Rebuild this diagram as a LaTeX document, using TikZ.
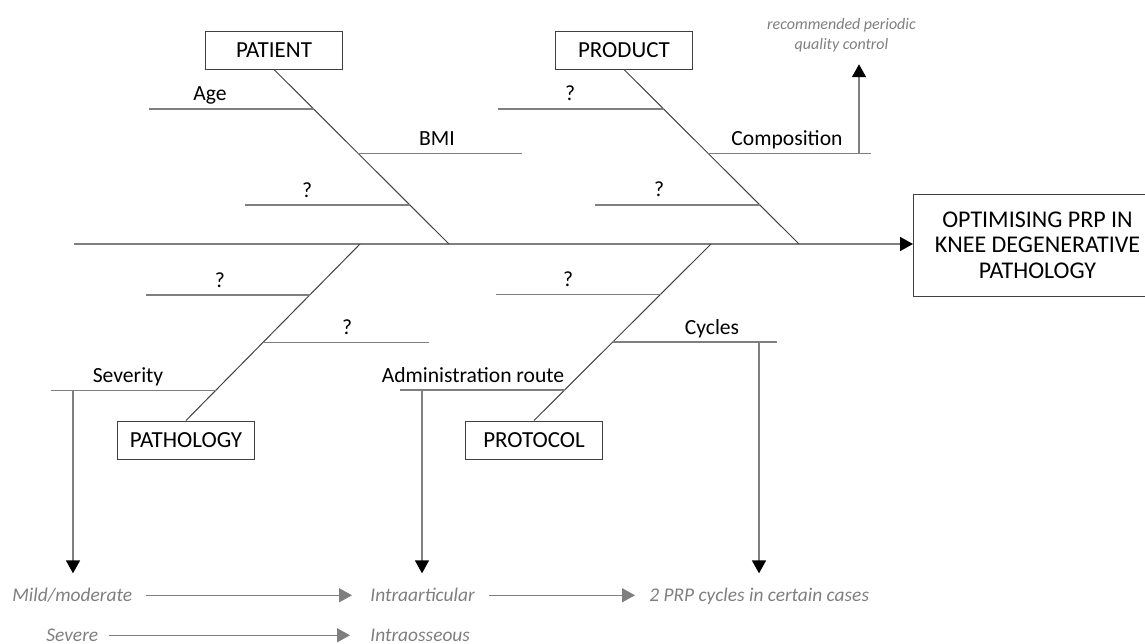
\documentclass[tikz,border=0pt]{standalone}
\usepackage{fontspec}
\setmainfont{Carlito}
\usetikzlibrary{arrows.meta,calc,positioning}
\definecolor{bonegray}{HTML}{7F7F7F}
\definecolor{ribgray}{HTML}{404040}

\begin{document}
\begin{tikzpicture}[x=0.5pt,y=-0.5pt,
	causebox/.style={draw=ribgray,line width=0.5pt,minimum width=68.5pt,minimum height=19pt,inner sep=0pt,font=\fontsize{11.5}{13}\selectfont},
	goalbox/.style={draw=ribgray,line width=0.5pt,minimum width=124pt,minimum height=51pt,inner sep=0pt,align=center,font=\fontsize{12}{12.8}\selectfont},
	bone/.style={draw=bonegray,line width=0.75pt},
	rib/.style={draw=ribgray,line width=0.5pt},
	lbl/.style={anchor=base,inner sep=0pt,font=\fontsize{10.8}{12}\selectfont},
	note/.style={anchor=base west,inner sep=0pt,text=bonegray,text height=1.6ex,text depth=0.4ex,font=\fontsize{9.7}{11}\selectfont\itshape},
	drop/.style={bone,-{Triangle[length=6.5pt,width=7pt,color=black]}},
	lead/.style={bone,-{Triangle[length=6.5pt,width=7pt,color=bonegray]}}]
	\useasboundingbox (0,0) rectangle (1145,643);
	
	\node[causebox] (patient) at (274,50) {PATIENT};
	\node[causebox] (product) at (624,50) {PRODUCT};
	\node[causebox] (pathology) at (186,440) {PATHOLOGY};
	\node[causebox] (protocol) at (534,440) {PROTOCOL};
	\node[goalbox, anchor=west] (goal) at (913,245) {OPTIMISING PRP IN\\KNEE DEGENERATIVE\\PATHOLOGY};
	
	\coordinate (tail) at (74,244);
	\coordinate (jpat) at (449,244);
	\coordinate (jprod) at (799,244);
	\coordinate (jpath) at (360,244);
	\coordinate (jprot) at (711,244);
	
	\draw[bone, -{Triangle[length=6.5pt,width=7pt,color=black]}] (tail) -- (tail -| goal.west);
	\draw[rib] (patient.south) -- (jpat);
	\draw[rib] (product.south) -- (jprod);
	\draw[rib] (pathology.north) -- (jpath);
	\draw[rib] (protocol.north) -- (jprot);
	
	\draw[bone] ($(patient.south)!0.227!(jpat)$) coordinate (age) -- ++(-165,0);
	\node[lbl] at (210,100.7) {Age};
	\draw[bone] ($(patient.south)!0.482!(jpat)$) coordinate (bmi) -- ++(164,0);
	\node[lbl] at (437,145.3) {BMI};
	\draw[bone] ($(patient.south)!0.777!(jpat)$) coordinate (patq) -- ++(-165,0);
	\node[lbl] at (307,197) {?};
	
	\draw[bone] ($(product.south)!0.227!(jprod)$) coordinate (prodq) -- ++(-166,0);
	\node[lbl] at (570,100.7) {?};
	\draw[bone] ($(product.south)!0.48!(jprod)$) coordinate (comp) -- ++(163,0);
	\node[lbl] at (787,145) {Composition};
	\draw[bone] ($(product.south)!0.777!(jprod)$) coordinate (prodr) -- ++(-165,0);
	\node[lbl] at (659,196) {?};
	
	\draw[bone] ($(pathology.north)!0.71!(jpath)$) coordinate (pathq) -- ++(-164,0);
	\node[lbl] at (220,287.3) {?};
	\draw[bone] ($(pathology.north)!0.441!(jpath)$) coordinate (pathr) -- ++(166,0);
	\node[lbl] at (347,334.7) {?};
	\draw[bone] ($(pathology.north)!0.17!(jpath)$) coordinate (sev) -- ++(-165,0);
	\node[lbl] at (128,382.7) {Severity};
	
	\draw[bone] ($(protocol.north)!0.715!(jprot)$) coordinate (protq) -- ++(-165,0);
	\node[lbl] at (568,286.3) {?};
	\draw[bone] ($(protocol.north)!0.445!(jprot)$) coordinate (cyc) -- ++(164,0);
	\node[lbl] at (712,334) {Cycles};
	\draw[bone] ($(protocol.north)!0.174!(jprot)$) coordinate (adm) -- ++(-165,0);
	\node[lbl] at (473,382) {Administration route};
	
	\node[note, anchor=center, align=center, font=\fontsize{8}{10}\selectfont\itshape, text height=, text depth=] (qc) at (841.5,35) {recommended periodic\\quality control};
	\node[note] (mild) at (12,601) {Mild/moderate};
	\node[note] (severe) at (46,641) {Severe};
	\node[note] (intraart) at (370,601) {Intraarticular};
	\node[note] (intraoss) at (370,641) {Intraosseous};
	\node[note] (twocyc) at (649,601) {2 PRP cycles in certain cases};
	
	\coordinate (compup) at (859,153);
	\coordinate (sevdown) at (73,390.7);
	\coordinate (admdown) at (422,390);
	\coordinate (cycdown) at (759,342);
	\draw[drop, shorten >=6pt] (compup) -- (compup |- qc.south);
	\draw[drop, shorten >=6pt] (sevdown) -- (sevdown |- mild.north);
	\draw[drop, shorten >=6pt] (admdown) -- (admdown |- intraart.north);
	\draw[drop, shorten >=6pt] (cycdown) -- (cycdown |- twocyc.north);
	
	\draw[lead, shorten <=6.5pt, shorten >=9pt] (mild.east) -- (intraart.west);
	\draw[lead, shorten <=5pt, shorten >=10pt] (severe.east) -- (intraoss.west);
	\draw[lead, shorten <=7pt, shorten >=7pt] (intraart.east) -- (twocyc.west);
\end{tikzpicture}
\end{document}
